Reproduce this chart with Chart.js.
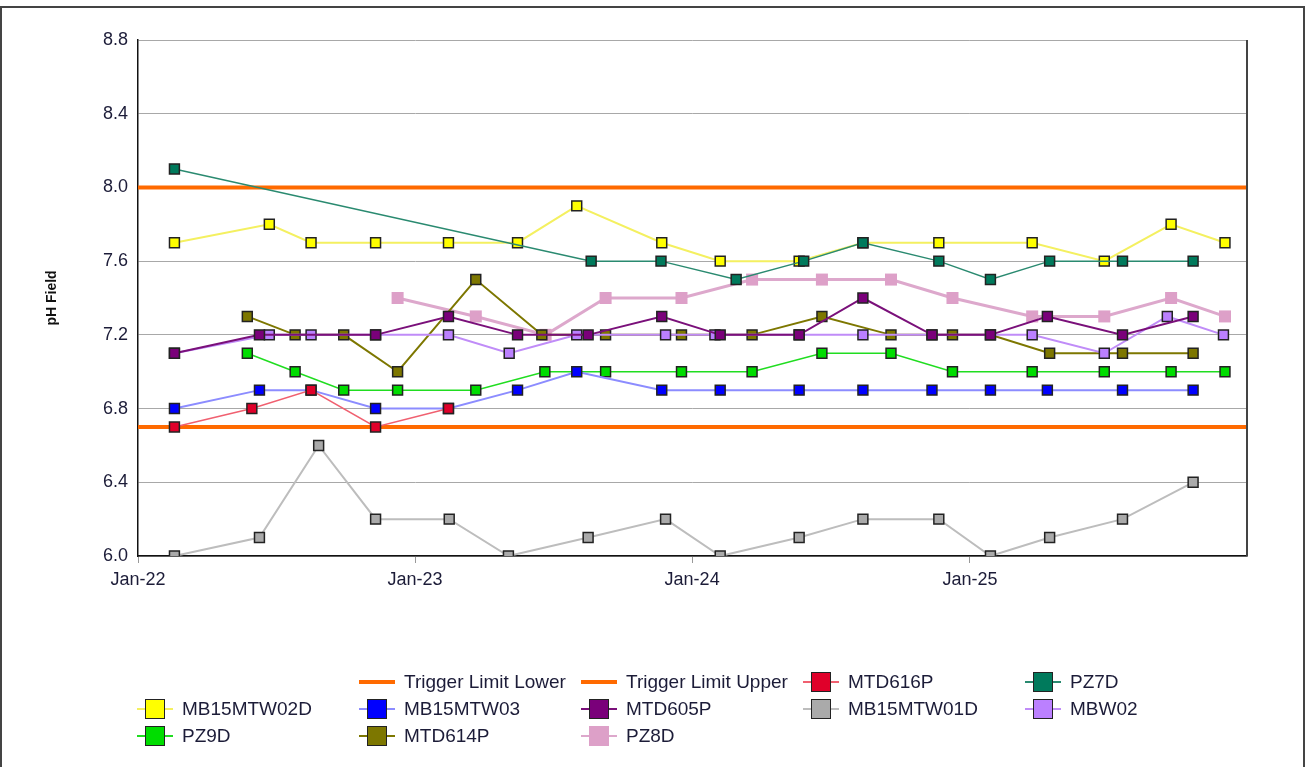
<!DOCTYPE html>
<html>
<head>
<meta charset="utf-8">
<title>pH Field</title>
<script src="https://cdn.jsdelivr.net/npm/chart.js@4.4.1/dist/chart.umd.min.js"></script>
<style>
  body { margin: 0; background: #fff; font-family: 'Liberation Sans', Arial, sans-serif; }
  #wrap { position: relative; width: 1310px; height: 767px; overflow: hidden; }
  #frame { position: absolute; left: 0; top: 6px; width: 1305px; height: 800px; border: 2px solid #444; border-bottom: none; box-sizing: border-box; }
  #legend { position: absolute; left: 137px; top: 668px; display: grid; grid-template-columns: repeat(5, 222px); grid-auto-rows: 27px; }
  .item { display: flex; align-items: center; font-size: 19px; color: #1c1c38; white-space: nowrap; }
  .sw { position: relative; width: 36px; height: 22px; margin-right: 9px; flex: none; }
  .sw .ln { position: absolute; left: 0; right: 0; }
  .sw .sq { position: absolute; left: 8px; top: 1px; width: 20px; height: 20px; box-sizing: border-box; border: 1.5px solid #222; }
</style>
</head>
<body>
<div id="wrap">
  <canvas id="chart" width="1310" height="767"></canvas>
  <div id="frame"></div>
  <div id="legend"></div>
</div>
<script>
// x axis
const xMin = '2022-01-01';
const xMax = '2026-01-01';
const xTickDates = ['2022-01-01', '2023-01-01', '2024-01-01', '2025-01-01'];
const xTickLabels = ['Jan-22', 'Jan-23', 'Jan-24', 'Jan-25'];
const yTicks = [6.0, 6.4, 6.8, 7.2, 7.6, 8.0, 8.4, 8.8];

// trigger limits
const triggerLower = 6.7;
const triggerUpper = 8.0;

// series (sample dates + pH values)
const mb15mtw02dDates = ['2022-02-18', '2022-06-23', '2022-08-17', '2022-11-10', '2023-02-14', '2023-05-16', '2023-08-02', '2023-11-22', '2024-02-07', '2024-05-21', '2024-08-13', '2024-11-21', '2025-03-24', '2025-06-27', '2025-09-23', '2025-12-03'];
const mb15mtw02dValues = [7.7, 7.8, 7.7, 7.7, 7.7, 7.7, 7.9, 7.7, 7.6, 7.6, 7.7, 7.7, 7.7, 7.6, 7.8, 7.7];

const pz7dDates = ['2022-02-18', '2023-08-21', '2023-11-21', '2024-02-28', '2024-05-27', '2024-08-13', '2024-11-21', '2025-01-28', '2025-04-16', '2025-07-21', '2025-10-22'];
const pz7dValues = [8.1, 7.6, 7.6, 7.5, 7.6, 7.7, 7.6, 7.5, 7.6, 7.6, 7.6];

const mtd616pDates = ['2022-02-18', '2022-05-31', '2022-08-17', '2022-11-10', '2023-02-14'];
const mtd616pValues = [6.7, 6.8, 6.9, 6.7, 6.8];

const mb15mtw03Dates = ['2022-02-18', '2022-06-10', '2022-08-17', '2022-11-10', '2023-02-14', '2023-05-16', '2023-08-02', '2023-11-22', '2024-02-07', '2024-05-21', '2024-08-13', '2024-11-12', '2025-01-28', '2025-04-13', '2025-07-21', '2025-10-22'];
const mb15mtw03Values = [6.8, 6.9, 6.9, 6.8, 6.8, 6.9, 7.0, 6.9, 6.9, 6.9, 6.9, 6.9, 6.9, 6.9, 6.9, 6.9];

const mtd605pDates = ['2022-02-18', '2022-06-10', '2022-11-10', '2023-02-14', '2023-05-16', '2023-08-17', '2023-11-22', '2024-02-07', '2024-05-21', '2024-08-13', '2024-11-12', '2025-01-28', '2025-04-13', '2025-07-21', '2025-10-22'];
const mtd605pValues = [7.1, 7.2, 7.2, 7.3, 7.2, 7.2, 7.3, 7.2, 7.2, 7.4, 7.2, 7.2, 7.3, 7.2, 7.3];

const mb15mtw01dDates = ['2022-02-18', '2022-06-10', '2022-08-27', '2022-11-10', '2023-02-15', '2023-05-04', '2023-08-17', '2023-11-27', '2024-02-07', '2024-05-21', '2024-08-13', '2024-11-21', '2025-01-28', '2025-04-16', '2025-07-21', '2025-10-22'];
const mb15mtw01dValues = [6.0, 6.1, 6.6, 6.2, 6.2, 6.0, 6.1, 6.2, 6.0, 6.1, 6.2, 6.2, 6.0, 6.1, 6.2, 6.4];

const mbw02Dates = ['2022-02-18', '2022-06-23', '2022-08-17', '2022-11-10', '2023-02-14', '2023-05-05', '2023-08-02', '2023-11-27', '2024-01-31', '2024-05-21', '2024-08-13', '2024-11-12', '2025-03-24', '2025-06-27', '2025-09-18', '2025-12-01'];
const mbw02Values = [7.1, 7.2, 7.2, 7.2, 7.2, 7.1, 7.2, 7.2, 7.2, 7.2, 7.2, 7.2, 7.2, 7.1, 7.3, 7.2];

const pz9dDates = ['2022-05-25', '2022-07-27', '2022-09-29', '2022-12-09', '2023-03-22', '2023-06-21', '2023-09-09', '2023-12-18', '2024-03-20', '2024-06-20', '2024-09-19', '2024-12-09', '2025-03-24', '2025-06-27', '2025-09-23', '2025-12-03'];
const pz9dValues = [7.1, 7.0, 6.9, 6.9, 6.9, 7.0, 7.0, 7.0, 7.0, 7.1, 7.1, 7.0, 7.0, 7.0, 7.0, 7.0];

const mtd614pDates = ['2022-05-25', '2022-07-27', '2022-09-29', '2022-12-09', '2023-03-22', '2023-06-17', '2023-09-09', '2023-12-18', '2024-03-20', '2024-06-20', '2024-09-19', '2024-12-09', '2025-01-28', '2025-04-16', '2025-07-21', '2025-10-22'];
const mtd614pValues = [7.3, 7.2, 7.2, 7.0, 7.5, 7.2, 7.2, 7.2, 7.2, 7.3, 7.2, 7.2, 7.2, 7.1, 7.1, 7.1];

const pz8dDates = ['2022-12-09', '2023-03-22', '2023-06-22', '2023-09-09', '2023-12-18', '2024-03-20', '2024-06-20', '2024-09-19', '2024-12-09', '2025-03-24', '2025-06-27', '2025-09-23', '2025-12-03'];
const pz8dValues = [7.4, 7.3, 7.2, 7.4, 7.4, 7.5, 7.5, 7.5, 7.4, 7.3, 7.3, 7.4, 7.3];

const ts = d => Date.parse(d + 'T00:00:00Z');
const pts = (dates, values) => dates.map((d, i) => ({ x: ts(d), y: values[i] }));

function series(label, dates, values, fill, line, width, noBorder) {
    return {
        label: label,
        data: pts(dates, values),
        borderColor: line,
        borderWidth: width,
        backgroundColor: fill,
        pointStyle: 'rect',
        pointRadius: noBorder ? 8.5 : 7,
        pointHoverRadius: noBorder ? 8.5 : 7,
        pointBackgroundColor: fill,
        pointBorderColor: noBorder ? fill : '#222',
        pointBorderWidth: noBorder ? 0 : 1.5,
        tension: 0,
        order: 0,
        swatch: { fill: fill, line: line, border: !noBorder }
    };
}

function limit(label, value) {
    return {
        label: label,
        data: [{ x: ts(xMin), y: value }, { x: ts(xMax), y: value }],
        borderColor: '#ff6a00',
        borderWidth: 4,
        pointRadius: 0,
        pointHoverRadius: 0,
        order: 5,
        swatch: { line: '#ff6a00', thick: true }
    };
}

const datasets = [
    limit('Trigger Limit Lower', triggerLower),
    limit('Trigger Limit Upper', triggerUpper),
    series('MTD616P', mtd616pDates, mtd616pValues, '#e0002a', '#f06070', 1.5),
    series('PZ7D', pz7dDates, pz7dValues, '#007a5c', '#2a8a70', 1.5),
    series('MB15MTW02D', mb15mtw02dDates, mb15mtw02dValues, '#ffff00', '#f4f060', 2),
    series('MB15MTW03', mb15mtw03Dates, mb15mtw03Values, '#0000ff', '#8c8cff', 2),
    series('MTD605P', mtd605pDates, mtd605pValues, '#7a007a', '#7a107a', 2),
    series('MB15MTW01D', mb15mtw01dDates, mb15mtw01dValues, '#aaaaaa', '#bdbdbd', 2),
    series('MBW02', mbw02Dates, mbw02Values, '#bb80ff', '#c08cf8', 2),
    series('PZ9D', pz9dDates, pz9dValues, '#00dd00', '#20dd20', 1.5),
    series('MTD614P', mtd614pDates, mtd614pValues, '#7d7700', '#7d7700', 2),
    series('PZ8D', pz8dDates, pz8dValues, '#dda0c8', '#dda8cc', 3, true)
];

// right edge of the plot frame
const plotFrame = {
    id: 'plotFrame',
    afterDatasetsDraw(chart) {
        const a = chart.chartArea;
        const c = chart.ctx;
        c.save();
        c.strokeStyle = '#444';
        c.lineWidth = 2;
        c.beginPath();
        c.moveTo(a.right, a.top);
        c.lineTo(a.right, a.bottom);
        c.stroke();
        c.restore();
    }
};

const ctx = document.getElementById('chart').getContext('2d');
const chart = new Chart(ctx, {
    type: 'line',
    data: { datasets: datasets },
    options: {
        responsive: false,
        animation: false,
        layout: { padding: { left: 42, top: 40, right: 63, bottom: 171 } },
        plugins: { legend: { display: false }, tooltip: { enabled: false } },
        scales: {
            x: {
                type: 'linear',
                min: ts(xMin),
                max: ts(xMax),
                afterBuildTicks: scale => {
                    scale.ticks = xTickDates.map(d => ({ value: ts(d) }));
                },
                afterFit: scale => { scale.height = 40; },
                ticks: {
                    autoSkip: false,
                    maxRotation: 0,
                    padding: 6,
                    color: '#1c1c38',
                    font: { family: "'Liberation Sans', Arial, sans-serif", size: 18 },
                    callback: (v) => {
                        const i = xTickDates.findIndex(d => ts(d) === v);
                        return i >= 0 ? xTickLabels[i] : '';
                    }
                },
                grid: { drawOnChartArea: false, drawTicks: true, tickLength: 7, tickColor: '#999' },
                border: { color: '#111', width: 1.5 }
            },
            y: {
                min: yTicks[0],
                max: yTicks[yTicks.length - 1],
                afterBuildTicks: scale => {
                    scale.ticks = yTicks.map(v => ({ value: v }));
                },
                afterFit: scale => { scale.width = 96; },
                ticks: {
                    padding: 10,
                    color: '#1c1c38',
                    font: { family: "'Liberation Sans', Arial, sans-serif", size: 18 },
                    callback: v => v.toFixed(1)
                },
                grid: { color: '#a8a8a8', lineWidth: 1, drawTicks: false },
                border: { color: '#111', width: 1.5 },
                title: {
                    display: true,
                    text: 'pH Field',
                    color: '#111',
                    padding: { top: 2, bottom: 0 },
                    font: { family: "'Liberation Sans', Arial, sans-serif", size: 14, weight: 'bold' }
                }
            }
        }
    },
    plugins: [plotFrame]
});

// legend laid out like the original: first row starts in column 2
const legendOrder = ['Trigger Limit Lower', 'Trigger Limit Upper', 'MTD616P', 'PZ7D',
    'MB15MTW02D', 'MB15MTW03', 'MTD605P', 'MB15MTW01D', 'MBW02',
    'PZ9D', 'MTD614P', 'PZ8D'];
const legend = document.getElementById('legend');
legend.appendChild(document.createElement('div'));
legendOrder.forEach(name => {
    const ds = datasets.find(d => d.label === name);
    const item = document.createElement('div');
    item.className = 'item';
    const sw = document.createElement('div');
    sw.className = 'sw';
    const ln = document.createElement('div');
    ln.className = 'ln';
    const h = ds.swatch.thick ? 4 : 2;
    ln.style.height = h + 'px';
    ln.style.top = (11 - h / 2) + 'px';
    ln.style.background = ds.swatch.line;
    sw.appendChild(ln);
    if (ds.swatch.fill) {
        const sq = document.createElement('div');
        sq.className = 'sq';
        sq.style.background = ds.swatch.fill;
        if (!ds.swatch.border) sq.style.border = 'none';
        sw.appendChild(sq);
    }
    const txt = document.createElement('span');
    txt.textContent = name;
    item.appendChild(sw);
    item.appendChild(txt);
    legend.appendChild(item);
});
</script>
</body>
</html>
